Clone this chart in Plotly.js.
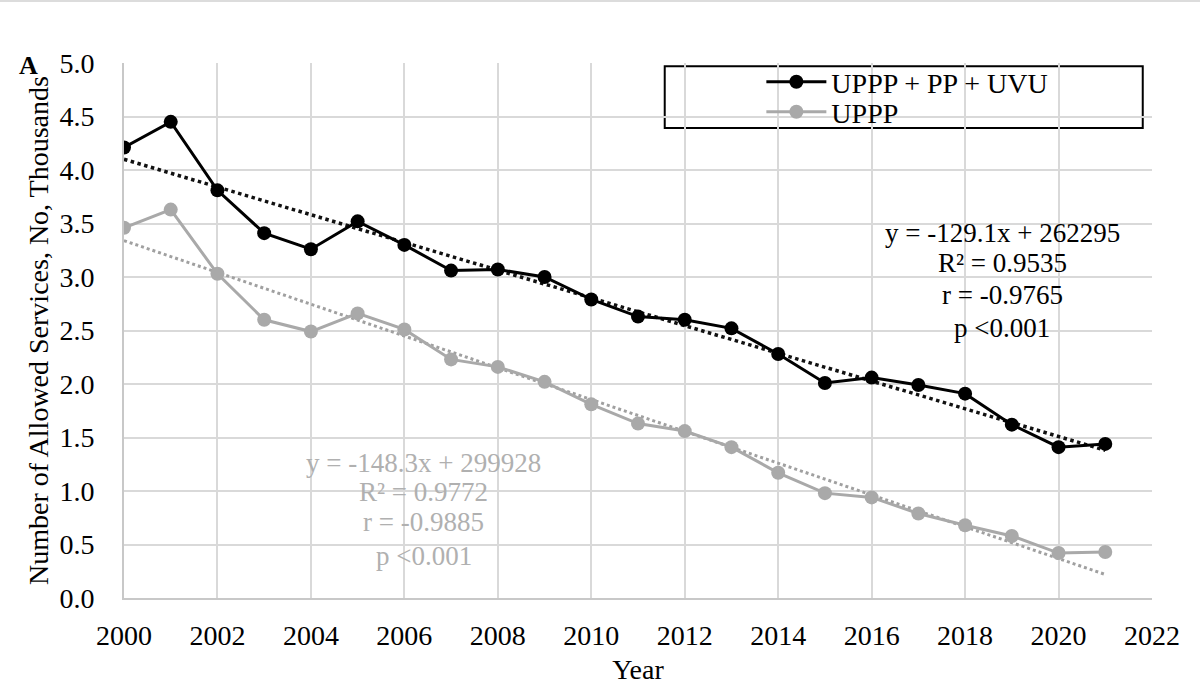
<!DOCTYPE html>
<html>
<head>
<meta charset="utf-8">
<script src="https://cdn.plot.ly/plotly-3.0.1.min.js"></script>
<style>html,body{margin:0;padding:0;background:#fff;}#chart{width:1200px;height:685px;}</style>
</head>
<body>
<div id="chart"></div>
<script>
const years = [2000,2001,2002,2003,2004,2005,2006,2007,2008,2009,2010,2011,2012,2013,2014,2015,2016,2017,2018,2019,2020,2021];
const combined = [4.21,4.45,3.81,3.41,3.26,3.52,3.30,3.06,3.07,3.00,2.79,2.63,2.60,2.52,2.28,2.01,2.06,1.99,1.91,1.62,1.41,1.44];
const uppp = [3.46,3.63,3.03,2.60,2.49,2.66,2.51,2.23,2.16,2.02,1.81,1.63,1.56,1.41,1.17,0.98,0.94,0.79,0.68,0.58,0.42,0.43];
const trendYears = [2000, 2021];
const combinedTrend = [4.10, 1.38];
const upppTrend = [3.34, 0.22];
const seriesNames = ["UPPP + PP + UVU", "UPPP"];
const combinedStats = ["y = -129.1x + 262295", "R² = 0.9535", "r = -0.9765", "p <0.001"];
const upppStats = ["y = -148.3x + 299928", "R² = 0.9772", "r = -0.9885", "p <0.001"];
const xTicks = [2000,2002,2004,2006,2008,2010,2012,2014,2016,2018,2020,2022];
const yTicks = [0,0.5,1,1.5,2,2.5,3,3.5,4,4.5,5];
const yTickText = ["0.0","0.5","1.0","1.5","2.0","2.5","3.0","3.5","4.0","4.5","5.0"];

const BLACK = "#000000";
const GRAY = "#a9a9a9";
const FONT = "Liberation Serif, Times New Roman, serif";

const traces = [
  {x: trendYears, y: combinedTrend, mode: "lines", line: {color: "#111", width: 3.5, dash: "dot"}, showlegend: false, hoverinfo: "skip"},
  {x: trendYears, y: upppTrend, mode: "lines", line: {color: "#a0a0a0", width: 3, dash: "dot"}, showlegend: false, hoverinfo: "skip"},
  {x: years, y: combined, name: seriesNames[0], mode: "lines+markers", line: {color: BLACK, width: 3}, marker: {color: BLACK, size: 14}, legend: "legend"},
  {x: years, y: uppp, name: seriesNames[1], mode: "lines+markers", line: {color: GRAY, width: 3}, marker: {color: GRAY, size: 14}, legend: "legend2"}
];

const annotations = [];
const blackYs = [3.41, 3.13, 2.83, 2.52];
combinedStats.forEach((t, i) => annotations.push({x: 2018.79, y: blackYs[i], xref: "x", yref: "y", text: t, showarrow: false, font: {family: FONT, size: 27, color: "#000"}, xanchor: "center", yanchor: "middle"}));
const grayYs = [1.26, 0.99, 0.71, 0.39];
upppStats.forEach((t, i) => annotations.push({x: 2006.42, y: grayYs[i], xref: "x", yref: "y", text: t, showarrow: false, font: {family: FONT, size: 27, color: "#b0b0b0"}, xanchor: "center", yanchor: "middle"}));
annotations.push({x: -0.093, y: 0.996, xref: "paper", yref: "paper", text: "<b>A</b>", showarrow: false, font: {family: FONT, size: 26, color: "#000"}, xanchor: "center", yanchor: "middle"});

const legendBase = {
  xanchor: "left", yanchor: "middle",
  bgcolor: "rgba(0,0,0,0)", borderwidth: 0,
  font: {family: FONT, size: 28, color: "#000"},
  itemwidth: 60
};

const layout = {
  width: 1200, height: 685,
  margin: {l: 124, r: 48, t: 63, b: 87},
  paper_bgcolor: "#fff", plot_bgcolor: "#fff",
  font: {family: FONT, size: 28, color: "#000"},
  xaxis: {
    range: [2000, 2022], tickvals: xTicks, ticktext: xTicks.map(String),
    showgrid: true, gridcolor: "#d9d9d9", gridwidth: 2,
    showline: true, linecolor: "#c8c8c8", linewidth: 2,
    zeroline: false, ticks: "", ticklabelstandoff: 11,
    tickfont: {family: FONT, size: 28, color: "#000"},
    title: {text: "Year", font: {family: FONT, size: 28, color: "#000"}, standoff: 11}
  },
  yaxis: {
    range: [0, 5], tickvals: yTicks, ticktext: yTickText,
    showgrid: true, gridcolor: "#d9d9d9", gridwidth: 2,
    showline: true, linecolor: "#c8c8c8", linewidth: 2,
    zeroline: false, ticks: "", ticklabelstandoff: 22,
    tickfont: {family: FONT, size: 28, color: "#000"},
    title: {text: "Number of Allowed Services, No, Thousands", font: {family: FONT, size: 28, color: "#000"}, standoff: 3}
  },
  legend: Object.assign({}, legendBase, {x: 0.62, y: 0.9645}),
  legend2: Object.assign({}, legendBase, {x: 0.62, y: 0.9084}),
  shapes: [
    {type: "rect", xref: "paper", yref: "paper", x0: 0.526, x1: 0.991, y0: 0.8785, y1: 0.994, line: {color: "#000", width: 2}, fillcolor: "rgba(255,255,255,1)", layer: "below"},
    {type: "line", xref: "paper", yref: "paper", x0: -0.125, x1: 1.05, y0: 1.1158, y1: 1.1158, line: {color: "#dcdcdc", width: 2}}
  ],
  annotations: annotations
};

Plotly.newPlot("chart", traces, layout, {displayModeBar: false, staticPlot: true});
</script>
</body>
</html>
